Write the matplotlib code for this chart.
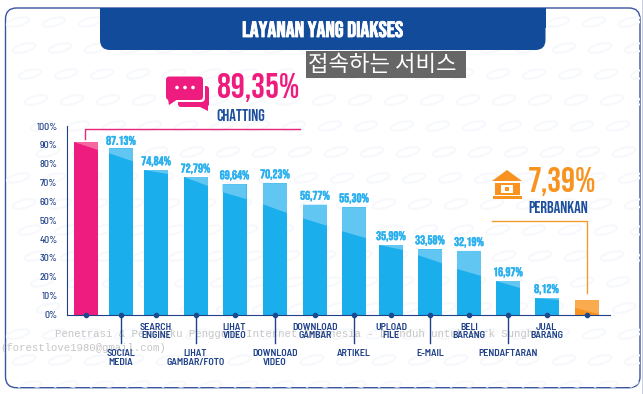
# -*- coding: utf-8 -*-
import matplotlib
matplotlib.use('Agg')
import matplotlib.pyplot as plt
import matplotlib.patheffects as pe
from matplotlib.patches import Rectangle, FancyBboxPatch, Polygon, Circle, Ellipse

# data
services = ['Chatting', 'SOCIAL\nMEDIA', 'SEARCH\nENGINE', 'LIHAT\nGAMBAR/FOTO', 'LIHAT\nVIDEO', 'DOWNLOAD\nVIDEO',
            'DOWNLOAD\nGAMBAR', 'ARTIKEL', 'UPLOAD\nFILE', 'E-MAIL', 'BELI\nBARANG', 'PENDAFTARAN', 'JUAL\nBARANG', 'Perbankan']
value_labels = ['', '87.13%', '74,84%', '72,79%', '69,64%', '70,23%', '56,77%', '55,30%', '35,99%', '33,58%',
                '32,19%', '16,97%', '8,12%', '']
bar_heights = [89.7, 86.6, 75.2, 71.4, 67.9, 68.4, 57.2, 55.9, 36.2, 34.0, 33.1, 17.4, 8.6, 7.5]
# light part on top of each bar, in % below the bar top
fold_left = [0, 2.6, 0, 0, 4.2, 11, 7.1, 12.5, 0, 3.1, 9.4, 0, 0, 4]
fold_right = [4.2, 6.8, 1.8, 4.2, 7.8, 15.5, 11, 16.1, 2.6, 7.3, 13, 3.6, 1, 7.3]
tick_values = [0, 10, 20, 30, 40, 50, 60, 70, 80, 90, 100]

bar_x = [86, 121, 156, 195.5, 234.5, 275, 315, 354, 391, 430, 469, 508, 546.5, 587]
bar_w = 24
navy = '#1f4189'
blue = '#1aaeec'
blue_light = '#62c6f2'
colorlist = ['#ee1c7e'] + [blue] * 12 + ['#f7931e']
lightlist = ['#f4689f'] + [blue_light] * 12 + ['#fbab4f']
narrow = ['Bebas Neue', 'Barlow Condensed', 'Liberation Sans', 'DejaVu Sans']
sans = ['Barlow Semi Condensed', 'Liberation Sans', 'DejaVu Sans']


def thicker(color, w=0.4):
    # Bebas only comes in one weight, the original is a bit heavier
    return [pe.withStroke(linewidth=w, foreground=color)]


fig = plt.figure(figsize=(6.43, 3.94), dpi=100)

# background layer in pixel coordinates
bg = fig.add_axes([0, 0, 1, 1])
bg.set_xlim(0, 643)
bg.set_ylim(394, 0)
bg.axis('off')

frame = FancyBboxPatch((5.5, 8), 634.5, 379.7, boxstyle='round,pad=0,rounding_size=11', fc='white', ec='#3a55a0', lw=1)
bg.add_patch(frame)
bg.add_patch(Rectangle((641.5, 0), 1.5, 394, fc='#c9cfe3', ec='none'))
for row in range(15):
    for col in range(19):
        e = Ellipse((18 + col * 36 + row * 6 % 36, 22 + row * 26), 23, 8, angle=-14, fc='none', ec='#f6f8fc', lw=1.5)
        bg.add_patch(e)
        e.set_clip_path(frame)

bg.add_patch(FancyBboxPatch((100, 8), 445.5, 42, boxstyle='round,pad=0,rounding_size=10', fc='#134b9b', ec='none'))
bg.add_patch(Rectangle((100, 8), 445.5, 20, fc='#134b9b', ec='none'))
bg.text(322.5, 29, 'LAYANAN YANG DIAKSES', color='white', fontsize=16, family=narrow, ha='center', va='center',
        path_effects=thicker('white', 0.6))

bg.add_patch(Rectangle((306, 51), 160, 27, fc='#666666', ec='none'))
bg.text(382, 64, '접속하는 서비스', color='white', fontsize=16, fontweight='light',
        family=['Noto Sans CJK KR', 'DejaVu Sans'], ha='center', va='center')

# chatting callout
bg.plot([84.5, 84.5, 300], [139, 128.5, 128.5], color='#e8247c', lw=1)
bg.add_patch(FancyBboxPatch((178, 86), 31, 21, boxstyle='round,pad=0,rounding_size=3', fc='#ee1c7e', ec='none'))
bg.add_patch(Polygon([[198, 106], [208, 106], [208, 111]], fc='#ee1c7e', ec='none'))
bg.add_patch(FancyBboxPatch((165, 75), 40, 27, boxstyle='round,pad=0,rounding_size=4', fc='white', ec='none'))
bg.add_patch(FancyBboxPatch((166, 76.5), 37, 23.5, boxstyle='round,pad=0,rounding_size=3.5', fc='#ee1c7e', ec='none'))
bg.add_patch(Polygon([[168, 99], [178, 99], [169, 105]], fc='#ee1c7e', ec='none'))
for dot_x in [177, 185, 193]:
    bg.add_patch(Circle((dot_x, 87.5), 1.8, fc='white', ec='none'))
bg.text(216.5, 87.5, '89,35%', color='#ee1c7e', fontsize=25, family=narrow, va='center')
bg.text(216, 114.5, 'CHATTING', color='#1c4f9c', fontsize=12, family=narrow, va='center')

# perbankan callout
bg.plot([492, 586.5, 586.5], [221, 221, 293], color='#f39c2e', lw=1)
bg.add_patch(Polygon([[507, 170], [522, 181], [492, 181]], fc='#f7931e', ec='none'))
bg.add_patch(Rectangle((495, 182.5), 25, 12.5, fc='#f7931e', ec='none'))
bg.add_patch(Rectangle((493, 195.5), 29, 3, fc='#f7931e', ec='none'))
bg.add_patch(Rectangle((500.5, 185), 12.5, 8, fc='white', ec='none'))
bg.add_patch(Rectangle((504.5, 187), 4.5, 4, fc='#f7931e', ec='none'))
bg.text(528, 181.5, '7,39%', color='#f7931e', fontsize=25, family=narrow, va='center')
bg.text(528, 207, 'PERBANKAN', color='#1c4f9c', fontsize=12, family=narrow, va='center')

# grey overlay text
mono = ['Liberation Mono', 'DejaVu Sans Mono']
bg.text(55, 334, 'Penetrasi & Perilaku Pengguna Internet Indonesia - Diunduh untuk Park Sungho',
        color='#c6c6c6', fontsize=7.7, family=mono, va='center')
bg.text(0, 348, '(forestlove1980@gmail.com)', color='#c6c6c6', fontsize=7.7, family=mono, va='center')

# chart
ax = fig.add_axes([66.5 / 643, 79.5 / 394, 543.5 / 643, 188.5 / 394])
ax.patch.set_alpha(0)
ax.set_xlim(66.5, 610)
ax.set_ylim(0, 98.2)

ax.bar(bar_x, bar_heights, width=bar_w, color=colorlist, zorder=2)
for i in range(len(bar_x)):
    l = bar_x[i] - bar_w / 2
    r = bar_x[i] + bar_w / 2
    top = bar_heights[i]
    ax.fill([l, r, r, l], [top, top, top - fold_right[i], top - fold_left[i]], color=lightlist[i], lw=0, zorder=3)
    if value_labels[i]:
        ax.annotate(value_labels[i], (bar_x[i], top), xytext=(0, 2.5), textcoords='offset points', ha='center', va='bottom',
                    color='#2ab0ee', fontsize=9, family=narrow, path_effects=thicker('#2ab0ee', 0.3))

# category labels on two levels, lower level hangs on a stem
for i in range(1, 13):
    lower = i % 2 == 1
    if lower:
        ax.plot([bar_x[i], bar_x[i]], [0, -15], color=navy, lw=1, clip_on=False, zorder=4)
    ax.annotate(services[i], (bar_x[i], 0), xytext=(0, -25 if lower else -6), textcoords='offset points',
                ha='center', va='top', color=navy, fontsize=7.2, fontweight=600, family=sans, linespacing=0.95)
ax.scatter(bar_x, [0] * len(bar_x), s=9, color='#1b4a8f', clip_on=False, zorder=5)

ax.set_xticks([])
ax.set_yticks([v * 0.982 for v in tick_values])
ax.set_yticklabels([str(v) + '%' for v in tick_values], fontsize=7.2, fontweight=500, color=navy, family=sans)
ax.tick_params(axis='y', length=0, pad=6.5)
ax.spines['top'].set_visible(False)
ax.spines['right'].set_visible(False)
ax.spines['left'].set_color(navy)
ax.spines['bottom'].set_color(navy)

plt.savefig('out.png', dpi=100)
